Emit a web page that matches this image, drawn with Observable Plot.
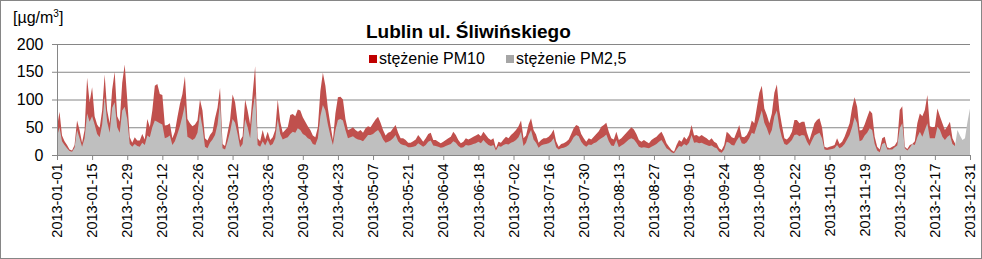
<!DOCTYPE html>
<html><head><meta charset="utf-8">
<script src="https://cdn.jsdelivr.net/npm/d3@7"></script>
<script src="https://cdn.jsdelivr.net/npm/@observablehq/plot@0.6"></script>
<style>
html,body{margin:0;padding:0;background:#fff;}
#chart{position:relative;width:982px;height:259px;font-family:"Liberation Sans",Arial,sans-serif;overflow:hidden;color:#000;}
#frame{position:absolute;left:0;top:0;width:980px;height:257px;border:1px solid #868686;pointer-events:none;}
.t{position:absolute;white-space:nowrap;line-height:1;}
#title{left:366px;top:22px;font-size:19px;font-weight:bold;}
#unit{left:13px;top:10px;font-size:16px;}
#unit sup{font-size:10px;vertical-align:top;position:relative;top:-1px;}
.sw{position:absolute;width:8px;height:8px;}
.lg{font-size:16px;}
</style></head>
<body><div id="chart"></div>
<script>
const pm10 = [50,78,35,25,18,10,8,18,62,45,22,45,139,95,122,70,55,48,80,145,80,57,118,150,70,60,130,163,100,32,22,32,26,
26,38,28,65,50,80,125,128,110,108,53,54,57,30,42,68,92,110,142,65,57,52,55,62,100,80,30,26,36,42,66,85,121,20,16,40,
63,109,95,60,26,34,100,80,55,110,160,30,25,45,28,42,27,32,45,100,60,40,45,50,72,74,70,82,80,68,60,52,45,35,32,50,
115,148,125,84,55,27,75,104,105,100,65,45,47,50,45,42,45,40,48,52,50,57,64,69,58,45,35,40,42,48,54,40,30,30,27,
22,22,25,28,36,30,24,30,38,40,27,27,24,21,24,27,30,33,42,36,27,21,24,30,28,30,33,35,38,34,42,36,30,27,30,12,
24,22,28,33,30,36,40,45,52,62,30,35,55,66,45,37,22,27,30,30,33,38,46,25,15,20,21,24,28,38,48,54,52,38,30,24,
30,28,33,38,43,51,54,58,42,30,28,42,27,30,35,40,45,50,46,38,27,24,27,24,21,27,30,33,38,42,33,21,15,9,6,18,27,
24,33,28,36,54,35,36,33,36,33,30,26,30,24,21,12,9,18,42,38,32,30,42,54,33,32,36,45,62,57,85,112,125,84,72,
57,75,112,127,80,54,30,28,33,42,63,63,57,60,60,40,27,42,57,63,66,50,15,13,15,16,18,30,20,24,33,45,57,85,104,87,
44,45,55,68,80,75,33,15,10,30,33,14,12,15,17,25,81,88,15,11,18,20,25,57,75,70,81,108,52,50,51,84,70,57,45,52,60,30,21,
null,null,null,null,null,null];

const pm25 = [33,50,25,18,12,7,6,13,45,30,15,30,75,60,70,55,38,32,55,105,60,40,85,95,50,40,80,87,65,20,15,20,16,
15,22,18,35,32,50,62,60,57,55,30,32,35,18,25,38,52,70,90,33,30,27,30,40,75,50,15,12,22,28,36,55,95,12,10,25,
42,65,58,38,14,20,65,50,30,80,110,18,15,25,17,27,17,20,30,65,38,28,30,32,38,42,40,48,45,38,35,30,28,20,18,30,
70,90,80,55,35,18,45,63,65,62,45,30,32,34,30,28,27,25,30,36,36,38,42,45,38,28,22,24,26,30,36,25,20,18,17,
14,14,15,16,21,18,15,18,24,26,17,16,15,13,14,16,18,20,25,22,16,13,14,18,17,18,20,21,24,21,27,22,18,16,18,8,
16,15,18,20,19,22,24,27,32,42,16,22,36,45,28,22,13,17,19,20,21,24,30,14,10,12,13,15,18,24,32,36,34,24,18,15,
19,18,21,23,27,30,33,37,25,17,16,27,14,17,20,24,28,30,28,22,15,13,14,13,12,15,17,20,24,27,20,12,9,5,3,10,16,
15,20,17,22,36,22,23,21,22,20,18,16,17,14,12,6,4,10,24,22,18,17,26,33,21,20,23,30,40,38,52,66,80,58,48,
35,45,70,80,50,32,20,18,22,27,36,37,34,36,35,24,16,26,35,38,40,30,10,9,10,11,12,18,12,15,20,28,36,50,68,57,
25,27,35,40,48,45,20,8,5,20,22,10,10,10,14,17,48,57,12,8,13,20,18,32,42,33,45,57,30,30,30,51,45,33,27,33,36,20,16,45,
35,27,30,60,84];

const tickLabels = ["2013-01-01","2013-01-15","2013-01-29","2013-02-12","2013-02-26","2013-03-12","2013-03-26",
"2013-04-09","2013-04-23","2013-05-07","2013-05-21","2013-06-04","2013-06-18","2013-07-02","2013-07-16",
"2013-07-30","2013-08-13","2013-08-27","2013-09-10","2013-09-24","2013-10-08","2013-10-22","2013-11-05",
"2013-11-19","2013-12-03","2013-12-17","2013-12-31"];
const yTicks = [0,50,100,150,200];
const seriesNames = ["stężenie PM10","stężenie PM2,5"];
const seriesColors = ["#C0504D","#BFBFBF"];
const legendColors = ["#C00000","#A6A6A6"];
const title = "Lublin ul. Śliwińskiego";

const start = new Date(Date.UTC(2013,0,1));
const rows = pm10.map((v,i)=>({date: d3.utcDay.offset(start,i), pm10: v, pm25: pm25[i]}));
const tickDates = tickLabels.map(s => new Date(s + "T00:00:00Z"));

const plot = Plot.plot({
  width: 982, height: 259,
  marginLeft: 57, marginRight: 12, marginTop: 44, marginBottom: 104,
  style: {fontFamily: "'Liberation Sans', Arial, sans-serif", fontSize: "14px", color: "#000", background: "transparent", overflow: "visible"},
  x: {type: "utc", domain: [tickDates[0], tickDates[tickDates.length-1]]},
  y: {domain: [0, 200]},
  marks: [
    Plot.gridY(yTicks.slice(1), {stroke: "#868686", strokeOpacity: 1}),
    Plot.areaY(rows, {x: "date", y: "pm10", fill: seriesColors[0]}),
    Plot.areaY(rows, {x: "date", y: "pm25", fill: seriesColors[1]}),
    Plot.ruleX([tickDates[0]], {stroke: "#868686"}),
    Plot.ruleY([0], {stroke: "#868686"}),
    Plot.axisY({ticks: yTicks, tickSize: 5, tickPadding: 9, fontSize: 16, stroke: "#868686", label: null}),
    Plot.axisX({ticks: tickDates, tickFormat: d3.utcFormat("%Y-%m-%d"), tickRotate: -90, tickSize: 5, tickPadding: 3, fontSize: 14.5, stroke: "#868686", label: null})
  ]
});
const chart = document.getElementById("chart");
chart.appendChild(plot);
plot.style.position = "absolute"; plot.style.left = "0"; plot.style.top = "0";

function addText(cls, id, html, left, top) {
  const d = document.createElement("div");
  d.className = "t " + cls; if (id) d.id = id;
  d.innerHTML = html;
  if (left != null) { d.style.left = left + "px"; d.style.top = top + "px"; }
  chart.appendChild(d);
  return d;
}
addText("", "title", title);
addText("", "unit", "[µg/m<sup>3</sup>]");
const legendX = [369, 506];
seriesNames.forEach((n, i) => {
  const s = document.createElement("div");
  s.className = "sw"; s.style.left = legendX[i] + "px"; s.style.top = "55px"; s.style.background = legendColors[i];
  chart.appendChild(s);
  addText("lg", null, n, legendX[i] + 10, 51);
});
const f = document.createElement("div"); f.id = "frame"; chart.appendChild(f);
</script></body></html>
